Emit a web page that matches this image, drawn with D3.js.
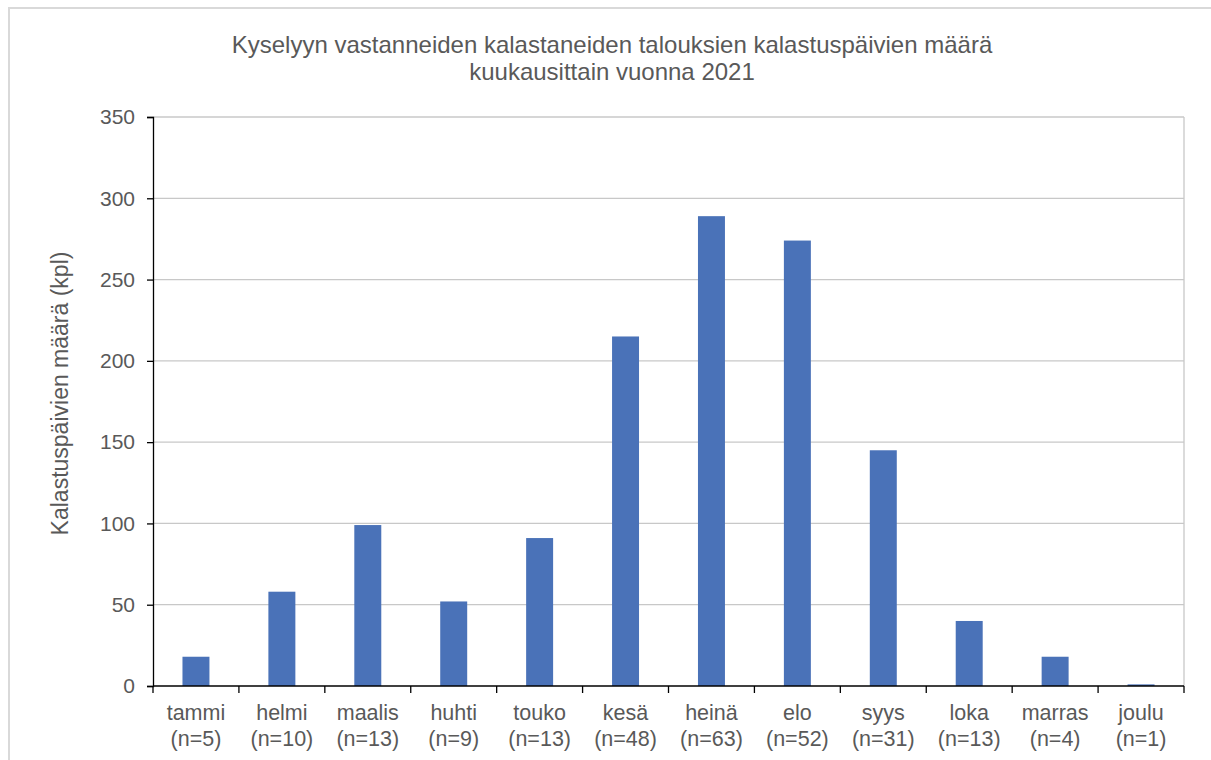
<!DOCTYPE html>
<html>
<head>
<meta charset="utf-8">
<script src="https://cdn.jsdelivr.net/npm/d3@7"></script>
<style>
  body { margin: 0; background: #fff; }
  text { font-family: "Liberation Sans", Arial, sans-serif; fill: #595959; }
</style>
</head>
<body>
<div id="chart"></div>
<script>
'use strict'

const months = ['tammi', 'helmi', 'maalis', 'huhti', 'touko', 'kesä', 'heinä', 'elo', 'syys', 'loka', 'marras', 'joulu']
const counts = [5, 10, 13, 9, 13, 48, 63, 52, 31, 13, 4, 1]
const fishingDays = [18, 58, 99, 52, 91, 215, 289, 274, 145, 40, 18, 1]
const yTicks = [0, 50, 100, 150, 200, 250, 300, 350]
const titleLines = ['Kyselyyn vastanneiden kalastaneiden talouksien kalastuspäivien määrä', 'kuukausittain vuonna 2021']
const yLabel = 'Kalastuspäivien määrä (kpl)'

const data = months.map((m, i) => ({ month: m, n: counts[i], value: fishingDays[i] }))

const width = 1211
const height = 760
const plot = { left: 153, right: 1184, top: 117, bottom: 686 }

const svg = d3.select('#chart')
  .append('svg')
  .attr('width', width)
  .attr('height', height)

// outer chart frame
svg.append('path')
  .attr('d', `M9,${height} V8 H${width}`)
  .attr('fill', 'none')
  .attr('stroke', '#d9d9d9')
  .attr('stroke-width', 2)

const xScale = d3.scaleBand()
  .domain(months)
  .range([plot.left, plot.right])
  .paddingInner(0.686)
  .paddingOuter(0.343)

const xBoundary = d3.scaleLinear()
  .domain([0, months.length])
  .range([plot.left, plot.right])

const yScale = d3.scaleLinear()
  .domain([0, 350])
  .range([plot.bottom, plot.top])

// gridlines
svg.append('g')
  .selectAll('line')
  .data(yTicks.filter(d => d > 0))
  .enter()
  .append('line')
  .attr('x1', plot.left)
  .attr('x2', plot.right)
  .attr('y1', d => yScale(d))
  .attr('y2', d => yScale(d))
  .attr('stroke', '#c8c8c8')
  .attr('stroke-width', 1.3)

// right edge of plot area
svg.append('line')
  .attr('x1', plot.right)
  .attr('x2', plot.right)
  .attr('y1', plot.top)
  .attr('y2', plot.bottom)
  .attr('stroke', '#c8c8c8')
  .attr('stroke-width', 1.3)

// bars
svg.append('g')
  .selectAll('rect')
  .data(data)
  .enter()
  .append('rect')
  .attr('x', d => xScale(d.month))
  .attr('width', xScale.bandwidth())
  .attr('y', d => yScale(d.value))
  .attr('height', d => yScale(0) - yScale(d.value))
  .attr('fill', '#4a72b8')

// y axis
const yAxis = svg.append('g')
  .attr('transform', `translate(${plot.left},0)`)
  .call(d3.axisLeft(yScale).tickValues(yTicks).tickSize(6).tickPadding(12))
yAxis.select('.domain').attr('stroke', '#000').attr('stroke-width', 1.3)
yAxis.selectAll('.tick line').attr('stroke', '#000').attr('stroke-width', 1.3)
yAxis.selectAll('.tick text')
  .style('font-family', '"Liberation Sans", Arial, sans-serif')
  .style('font-size', '21px')
  .attr('fill', '#595959')

// x axis line and boundary ticks
const xAxis = svg.append('g')
xAxis.append('line')
  .attr('x1', plot.left)
  .attr('x2', plot.right)
  .attr('y1', plot.bottom)
  .attr('y2', plot.bottom)
  .attr('stroke', '#000')
  .attr('stroke-width', 1.6)
xAxis.selectAll('.bticks')
  .data(d3.range(months.length + 1))
  .enter()
  .append('line')
  .attr('x1', d => xBoundary(d))
  .attr('x2', d => xBoundary(d))
  .attr('y1', plot.bottom)
  .attr('y2', plot.bottom + 7)
  .attr('stroke', '#000')
  .attr('stroke-width', 1.3)

const labels = xAxis.selectAll('.cat')
  .data(data)
  .enter()
  .append('text')
  .attr('text-anchor', 'middle')
  .style('font-size', '21.5px')
labels.append('tspan')
  .attr('x', d => xScale(d.month) + xScale.bandwidth() / 2)
  .attr('y', 720)
  .text(d => d.month)
labels.append('tspan')
  .attr('x', d => xScale(d.month) + xScale.bandwidth() / 2)
  .attr('y', 746)
  .text(d => `(n=${d.n})`)

// title
svg.append('text')
  .attr('text-anchor', 'middle')
  .style('font-size', '24px')
  .selectAll('tspan')
  .data(titleLines)
  .enter()
  .append('tspan')
  .attr('x', 612)
  .attr('y', (d, i) => 53 + i * 27)
  .text(d => d)

// y axis title
svg.append('text')
  .attr('transform', `translate(68, ${(plot.top + plot.bottom) / 2 - 8}) rotate(-90)`)
  .attr('text-anchor', 'middle')
  .style('font-size', '23px')
  .text(yLabel)
</script>
</body>
</html>
